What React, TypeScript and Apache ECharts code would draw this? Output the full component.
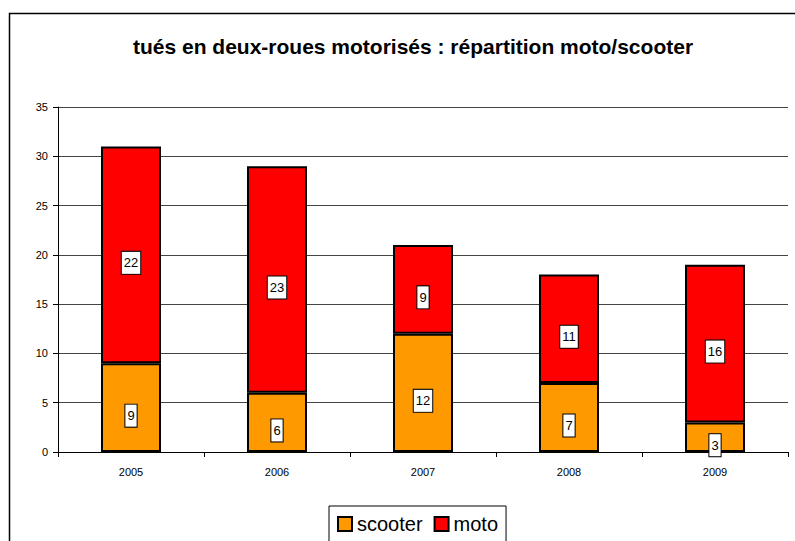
import React, { useEffect, useRef } from "react";
import * as echarts from "echarts";

const categories = ["2005", "2006", "2007", "2008", "2009"];
const scooter = [9, 6, 12, 7, 3];
const moto = [22, 23, 9, 11, 16];
const yTicks = { min: 0, max: 35, interval: 5 };
const title = "tués en deux-roues motorisés : répartition moto/scooter";

const FONT = "'Liberation Sans', Arial, sans-serif";

export default function App() {
  const ref = useRef<HTMLDivElement>(null);
  useEffect(() => {
    const chart = echarts.init(ref.current!, null, { renderer: "svg" });
    const label = {
      show: true,
      position: "inside",
      offset: [0, 8],
      color: "#000",
      fontFamily: FONT,
      fontSize: 13,
      backgroundColor: "#fff",
      borderColor: "#000",
      borderWidth: 1,
      padding: [5, 2, 4, 2],
    };
    chart.setOption({
      animation: false,
      backgroundColor: "#fff",
      textStyle: { fontFamily: FONT },
      graphic: [
        {
          type: "rect",
          shape: { x: 9.5, y: 13.5, width: 800, height: 560 },
          style: { fill: "none", stroke: "#000", lineWidth: 1.5 },
          silent: true,
          z: 100,
        },
      ],
      title: {
        text: title,
        left: 408,
        textAlign: "center",
        top: 31,
        textStyle: { fontFamily: FONT, fontSize: 21, fontWeight: "bold", color: "#000" },
      },
      legend: {
        data: ["scooter", "moto"],
        left: 329,
        top: 506,
        orient: "horizontal",
        itemWidth: 14,
        itemHeight: 14,
        itemGap: 11,
        icon: "rect",
        padding: [8, 8, 12, 8],
        borderColor: "#000",
        borderWidth: 1,
        backgroundColor: "#fff",
        textStyle: { fontFamily: FONT, fontSize: 20, color: "#000" },
      },
      grid: { left: 58, right: 7, top: 107, bottom: 89 },
      xAxis: {
        type: "category",
        data: categories,
        axisLine: { lineStyle: { color: "#000", width: 1 } },
        axisTick: { show: true, length: 5, lineStyle: { color: "#000" } },
        axisLabel: { color: "#000", fontSize: 11, fontFamily: FONT, margin: 14 },
      },
      yAxis: {
        type: "value",
        min: yTicks.min,
        max: yTicks.max,
        interval: yTicks.interval,
        axisLine: { show: true, lineStyle: { color: "#000", width: 1 } },
        axisTick: { show: true, length: 5, lineStyle: { color: "#000" } },
        axisLabel: { color: "#000", fontSize: 11, fontFamily: FONT, margin: 10 },
        splitLine: { show: true, lineStyle: { color: "#444", width: 1 } },
      },
      series: [
        {
          name: "scooter",
          type: "bar",
          stack: "total",
          data: scooter,
          barWidth: 60,
          itemStyle: { color: "#FF9900", borderColor: "#000", borderWidth: 2 },
          label,
        },
        {
          name: "moto",
          type: "bar",
          stack: "total",
          data: moto,
          barWidth: 60,
          itemStyle: { color: "#FF0000", borderColor: "#000", borderWidth: 2 },
          label,
        },
      ],
    });
    return () => chart.dispose();
  }, []);
  return <div ref={ref} style={{ width: 795, height: 541, position: "absolute", left: 0, top: 0 }} />;
}
